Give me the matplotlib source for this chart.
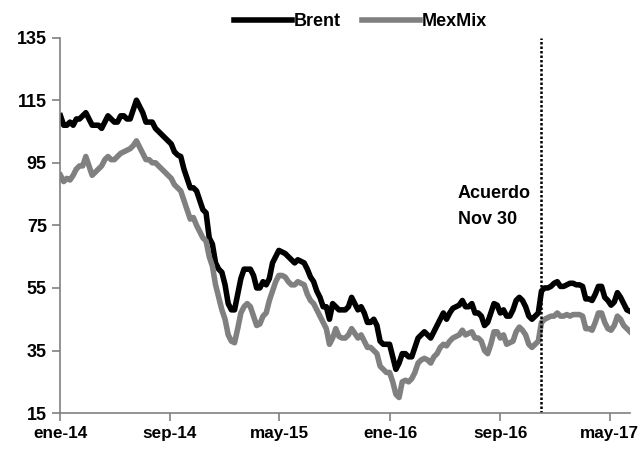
import matplotlib
matplotlib.use('Agg')
import matplotlib.pyplot as plt
import pandas as pd

# weekly readings, starting 2014-01-02
start = '2014-01-02'
brent = [110, 107, 107, 108, 107, 109, 109, 110, 111, 109,
         107, 107, 107, 106, 108, 110, 109, 108, 108, 110,
         110, 109, 109, 112, 115, 113, 111, 108, 108, 108,
         106, 105, 104, 103, 102, 101, 98.5, 97.5, 97, 93,
         90, 87, 87, 86, 83, 80, 79, 71, 69, 63,
         61, 60,
         56, 50, 48, 48, 53, 58, 61, 61, 61, 59,
         55, 55, 57, 56, 58, 63, 65, 67, 66.5, 66,
         65, 64, 63, 64, 63.5, 63, 61, 58.5, 57, 54,
         52, 49, 49, 45, 50, 49, 48, 48, 48, 49,
         52, 50, 48, 49, 47, 44, 44, 45, 43, 38,
         37, 37,
         37, 33, 29, 31, 34, 34, 33, 33, 36, 39,
         40, 41, 40, 39, 41, 43, 45, 47, 45, 47,
         48.5, 49, 49.5, 51, 49, 49, 50, 47, 47, 46,
         43, 44, 47, 50, 49.5, 47, 48, 46, 46, 48,
         51, 52, 51, 49, 46, 45, 46, 47, 54, 55,
         55, 55.5, 56.5,
         57, 55.5, 55.5, 56, 56.5, 56.5, 56, 56, 55.5, 51.5,
         51.5, 51, 53, 55.5, 55.5, 52, 51, 49.5, 50.5, 53.5,
         52, 50, 48, 47.5]
mexmix = [91, 89, 90, 89.5, 91, 93, 94, 94, 97, 94,
          91, 92, 93, 94, 96, 97, 96, 96, 97, 98,
          98.5, 99, 99.5, 100.5, 102, 100, 98, 96, 96, 95,
          95, 94, 93, 92, 91, 90, 88, 87, 86, 83,
          80, 77, 77.5, 75, 73, 71, 70, 65, 62, 56,
          52, 48,
          45, 40, 38, 37.5, 42, 47, 49, 50, 49, 46,
          43, 43.5, 46, 47, 51, 54, 57, 59, 59, 58.5,
          57, 56, 56, 57, 56.5, 56, 53, 51, 50, 48,
          46, 44, 42, 37, 39, 42, 39.5, 39, 39, 40,
          42, 40.5, 39, 40, 38, 36, 36, 35, 34, 30,
          29, 28,
          28, 25, 21, 20, 25, 25.5, 25, 26, 28, 31,
          32, 32.5, 32, 31, 33, 34, 36, 37, 36.5, 38,
          39, 39.5, 40, 41.5, 40, 40.5, 41, 39, 39, 38,
          35, 34, 37, 41, 41, 39, 40, 37, 37.5, 38,
          41, 42.5, 41.5, 40, 37, 36, 37, 38, 44, 45,
          45.5, 46, 46,
          47, 46, 46, 46.5, 46, 46.5, 46.5, 46.5, 46, 42,
          42, 41.5, 44, 47, 47, 44, 42, 41.5, 43, 46,
          45, 43, 42, 41]
dates = pd.date_range(start, periods=len(brent), freq='7D')

tick_dates = pd.to_datetime(['2014-01-01', '2014-09-01', '2015-05-01',
                             '2016-01-01', '2016-09-01', '2017-05-01'])
tick_labels = ['ene-14', 'sep-14', 'may-15', 'ene-16', 'sep-16', 'may-17']
yticks = [15, 35, 55, 75, 95, 115, 135]
acuerdo = pd.Timestamp('2016-11-30')

plt.rcParams['font.family'] = ['Liberation Sans', 'DejaVu Sans']
plt.rcParams['font.weight'] = 'bold'

fig = plt.figure(figsize=(6.39, 4.53), dpi=100)
ax = fig.add_axes([0.094, 0.088, 0.892, 0.829])

ax.plot(dates, brent, color='black', lw=4, label='Brent', solid_joinstyle='round')
ax.plot(dates, mexmix, color='#808080', lw=4, label='MexMix', solid_joinstyle='round')
ax.axvline(acuerdo, color='black', lw=1.8, linestyle=(0, (1, 0.8)))
ax.text(acuerdo - pd.Timedelta(days=184), 81, 'Acuerdo\nNov 30', ha='left', va='center',
        fontsize=13, fontweight='bold', linespacing=1.75)

ax.set_ylim(15, 135)
ax.set_yticks(yticks)
ax.set_xlim(pd.Timestamp('2014-01-01'), dates[-1])
ax.set_xticks(tick_dates)
ax.set_xticklabels(tick_labels)

for side in ['top', 'right']:
    ax.spines[side].set_visible(False)
for side in ['left', 'bottom']:
    ax.spines[side].set_color('#808080')
    ax.spines[side].set_linewidth(1.2)
ax.tick_params(axis='both', colors='#808080', labelcolor='black', labelsize=13,
               direction='out', length=6, width=1.2)
ax.tick_params(axis='x', labelsize=12.3)

ax.legend(loc='lower center', bbox_to_anchor=(0.527, 0.995), ncol=2, frameon=False,
          fontsize=13, handlelength=3.2, handletextpad=0.1, columnspacing=1.2,
          borderaxespad=0.1)

fig.savefig('out.png', dpi=100)
